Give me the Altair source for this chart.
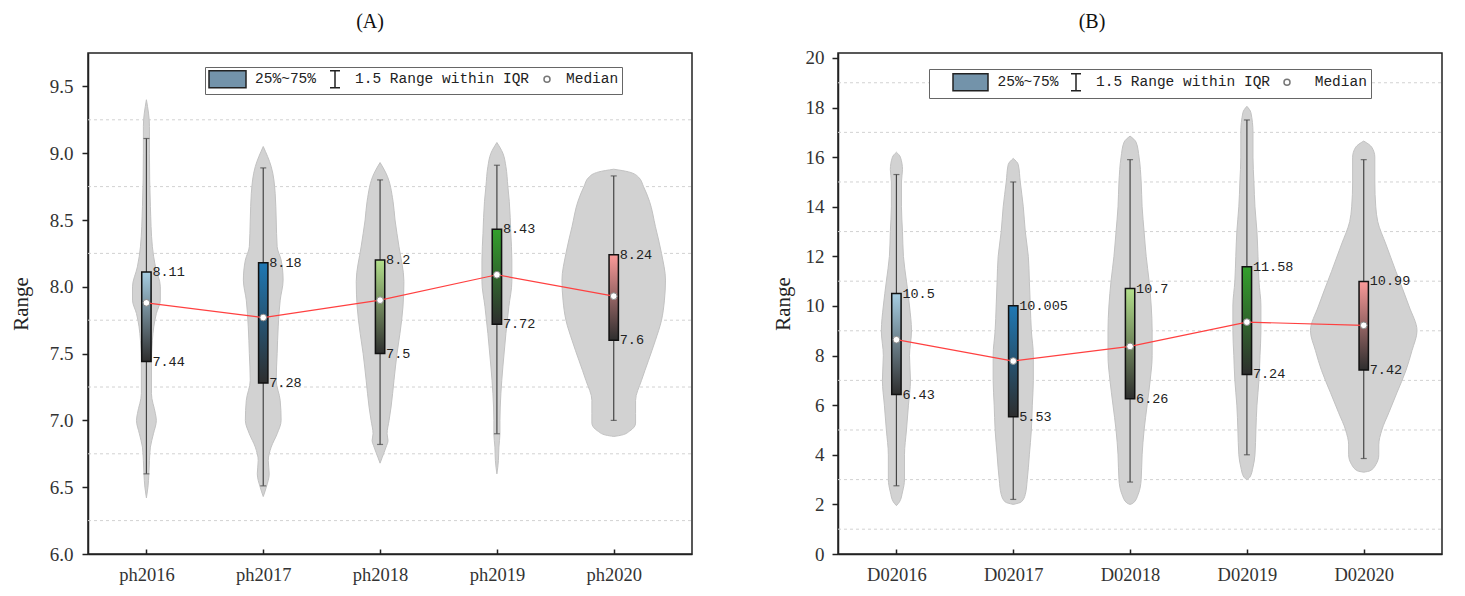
import json
import altair as alt
import pandas as pd

# ---------------- Panel A data ----------------
cats_a = ["ph2016", "ph2017", "ph2018", "ph2019", "ph2020"]
q1_a = [7.44, 7.28, 7.5, 7.72, 7.6]
q3_a = [8.11, 8.18, 8.2, 8.43, 8.24]
med_a = [7.88, 7.77, 7.90, 8.09, 7.93]
lo_a = [6.60, 6.51, 6.82, 6.90, 7.00]
hi_a = [9.11, 8.89, 8.80, 8.91, 8.83]

# violin outlines: levels and half widths (category units)
va16_y = [9.40, 9.2, 9.0, 8.6, 8.3, 8.15, 8.0, 7.9, 7.8, 7.6, 7.4, 7.2, 7.05, 7.0, 6.9, 6.8, 6.7, 6.6, 6.5, 6.42]
va16_w = [0, .026, .026, .034, .051, .077, .119, .119, .085, .051, .043, .043, .077, .085, .06, .034, .026, .021, .013, 0]
va17_y = [9.05, 8.9, 8.7, 8.5, 8.3, 8.2, 8.05, 7.9, 7.7, 7.5, 7.3, 7.15, 7.0, 6.9, 6.8, 6.7, 6.6, 6.5, 6.43]
va17_w = [0, .068, .102, .111, .119, .153, .17, .145, .128, .119, .111, .145, .153, .119, .068, .043, .051, .026, 0]
va18_y = [8.93, 8.85, 8.64, 8.5, 8.3, 8.04, 7.85, 7.65, 7.5, 7.3, 7.1, 7.0, 6.9, 6.85, 6.8, 6.72, 6.68]
va18_w = [0, .051, .111, .128, .162, .204, .196, .17, .145, .119, .094, .077, .06, .068, .051, .017, 0]
va19_y = [9.08, 9.0, 8.9, 8.75, 8.64, 8.4, 8.2, 8.04, 7.85, 7.65, 7.4, 7.2, 7.0, 6.9, 6.8, 6.7, 6.6]
va19_w = [0, .051, .077, .094, .106, .119, .128, .128, .102, .077, .051, .034, .026, .026, .017, .013, 0]
va20_y = [8.88, 8.86, 8.82, 8.75, 8.64, 8.45, 8.25, 8.05, 7.9, 7.75, 7.6, 7.45, 7.3, 7.15, 7.05, 6.98, 6.92, 6.89, 6.88]
va20_w = [0, .128, .213, .255, .306, .357, .409, .443, .434, .409, .357, .298, .238, .187, .187, .187, .136, .068, 0]

# ---------------- Panel B data ----------------
cats_b = ["D02016", "D02017", "D02018", "D02019", "D02020"]
q1_b = [6.43, 5.53, 6.26, 7.24, 7.42]
q3_b = [10.5, 10.005, 10.7, 11.58, 10.99]
med_b = [8.64, 7.78, 8.37, 9.35, 9.22]
lo_b = [2.75, 2.2, 2.9, 4.0, 3.85]
hi_b = [15.3, 15.0, 15.9, 17.5, 15.9]

vb16_y = [16.2, 16.0, 15.5, 15.0, 14.0, 13.0, 12.0, 11.0, 10.0, 9.0, 8.0, 7.0, 6.0, 5.0, 4.0, 3.0, 2.5, 2.1, 1.95]
vb16_w = [0, .034, .052, .043, .043, .052, .06, .086, .112, .129, .112, .12, .103, .086, .069, .069, .052, .026, 0]
vb17_y = [15.95, 15.7, 15.0, 14.0, 13.0, 12.0, 11.0, 10.0, 9.0, 8.0, 7.0, 6.0, 5.0, 4.0, 3.0, 2.4, 2.1, 2.0]
vb17_w = [0, .043, .06, .086, .103, .129, .138, .146, .155, .172, .172, .163, .155, .138, .12, .103, .069, 0]
vb18_y = [16.85, 16.6, 16.0, 15.0, 14.0, 13.0, 12.0, 11.0, 10.0, 9.0, 8.0, 7.0, 6.0, 5.0, 4.0, 3.0, 2.4, 2.05, 2.0]
vb18_w = [0, .052, .077, .095, .103, .12, .138, .163, .181, .189, .189, .172, .146, .12, .103, .095, .069, .026, 0]
vb19_y = [18.05, 17.8, 17.0, 16.0, 15.0, 14.0, 13.0, 12.0, 11.0, 10.0, 9.0, 8.0, 7.0, 6.0, 5.0, 4.0, 3.5, 3.1, 3.0]
vb19_w = [0, .034, .052, .052, .06, .069, .086, .095, .103, .12, .12, .112, .103, .086, .077, .069, .052, .026, 0]
vb20_y = [16.65, 16.4, 16.0, 15.0, 14.0, 13.4, 12.5, 11.4, 10.0, 9.0, 8.2, 7.4, 6.5, 5.7, 5.0, 4.4, 4.0, 3.6, 3.35, 3.3]
vb20_w = [0, .069, .095, .095, .103, .12, .189, .275, .387, .456, .413, .361, .284, .215, .155, .129, .129, .103, .052, 0]

box_colors = ["#a6cee3", "#1f78b4", "#b2df8a", "#33a02c", "#fb9a99"]
legend_items = ["25%~75%", "1.5 Range within IQR", "Median"]

# axis ticks and dashed grid levels
ticks_a = [6 + 0.25 * i for i in range(15)]
grid_a = [6.25, 6.75, 7.25, 7.75, 8.25, 8.75, 9.25]
ticks_b = list(range(0, 21, 2))
grid_b = list(range(1, 20, 2))

SERIF = "Liberation Serif"
MONO = "Liberation Mono"
ZW = "\u200b"     # zero width lead so the following spaces survive trimming
NBSP = "\u00a0"


def panel(cats, q1, q3, med, lo, hi, vys, vws, ydom, yvals, grid_vals, major, fmt,
          title, title_dx, title_off, lab_pad, title_pad,
          leg_x, leg_y, leg_pad, leg_col, sp1, sp3, swatch, width, height):
    pos = list(range(1, len(cats) + 1))
    vrows = []
    for i, c in enumerate(cats):
        for y, w in zip(vys[i], vws[i]):
            vrows.append({"cat": c, "pos": pos[i], "lvl": y, "w": w})
    vdf = pd.DataFrame(vrows)
    bdf = pd.DataFrame({"cat": cats, "pos": pos, "q1": q1, "q3": q3, "med": med,
                        "lo": lo, "hi": hi,
                        "q1l": [str(v) for v in q1], "q3l": [str(v) for v in q3]})
    items = [
        (ZW + NBSP * sp1 if sp1 else "") + legend_items[0],
        legend_items[1],
        (ZW + NBSP * sp3 if sp3 else "") + legend_items[2],
    ]
    ldf = pd.DataFrame({"item": items, "pos": [1, 1, 1],
                        "val": [ydom[0] - 1000] * 3})
    gdf = pd.DataFrame({"g": grid_vals})

    xs = alt.Scale(domain=[0.5, 5.67], nice=False, zero=False)
    ys = alt.Scale(domain=ydom, nice=False, zero=False)
    test = f"abs(datum.value / {major} - round(datum.value / {major})) < 1e-6"
    xaxis = alt.Axis(values=pos, labelExpr=json.dumps(cats) + "[datum.value - 1]",
                     title=None, grid=False, tickSize=alt.ExprRef("-5"),
                     labelPadding=16, labelFontSize=18.5)
    yaxis = alt.Axis(values=yvals, title="Range",
                     labelExpr=f"{test} ? format(datum.value, '{fmt}') : ''",
                     grid=False, tickSize=6, labelPadding=lab_pad, titlePadding=title_pad)

    X = alt.X("pos:Q", scale=xs, axis=xaxis)

    grid = alt.Chart(gdf).mark_rule(color="#d2d2d2", strokeDash=[3, 3], strokeWidth=1).encode(
        y=alt.Y("g:Q", scale=ys, axis=yaxis),
        x=alt.value(0), x2=alt.value(width))

    violins = alt.Chart(vdf).transform_calculate(
        left="datum.pos - datum.w", right="datum.pos + datum.w"
    ).mark_area(orient="horizontal", interpolate="monotone", fill="#d2d2d2",
                stroke="#c2c2c2", strokeWidth=1).encode(
        y=alt.Y("lvl:Q", scale=ys, axis=yaxis),
        x=alt.X("left:Q", scale=xs, axis=xaxis),
        x2="right:Q",
        detail="cat:N",
    )

    base = alt.Chart(bdf)
    whisk = base.mark_rule(color="#444", strokeWidth=1.2).encode(
        x=X, y=alt.Y("lo:Q", scale=ys), y2="hi:Q")
    cap_lo = base.mark_tick(orient="horizontal", size=6, thickness=1.2, color="#444").encode(
        x=X, y=alt.Y("lo:Q", scale=ys))
    cap_hi = base.mark_tick(orient="horizontal", size=6, thickness=1.2, color="#444").encode(
        x=X, y=alt.Y("hi:Q", scale=ys))

    boxes = []
    for c, col in zip(cats, box_colors):
        grad = alt.Gradient(gradient="linear",
                            stops=[alt.GradientStop(color=col, offset=0),
                                   alt.GradientStop(color="#2e2e2e", offset=1)],
                            x1=0, x2=0, y1=0, y2=1)
        boxes.append(
            base.transform_filter(alt.datum.cat == c).transform_calculate(
                bl="datum.pos - 0.04", br="datum.pos + 0.04"
            ).mark_rect(fill=grad, stroke="#111", strokeWidth=1.5).encode(
                x=alt.X("bl:Q", scale=xs), x2="br:Q",
                y=alt.Y("q3:Q", scale=ys), y2="q1:Q")
        )

    line = base.mark_line(color="#ff4040", strokeWidth=1.2).encode(
        x=X, y=alt.Y("med:Q", scale=ys))
    dots = base.mark_point(filled=True, fill="white", stroke="#888", strokeWidth=1,
                           size=45, opacity=1, shape="circle").encode(
        x=X, y=alt.Y("med:Q", scale=ys))
    t_hi = base.mark_text(align="left", baseline="middle", dx=6, font=MONO,
                          fontSize=13.5, color="#222").encode(
        x=X, y=alt.Y("q3:Q", scale=ys), text="q3l:N")
    t_lo = base.mark_text(align="left", baseline="middle", dx=6, font=MONO,
                          fontSize=13.5, color="#222").encode(
        x=X, y=alt.Y("q1:Q", scale=ys), text="q1l:N")

    leg = alt.Legend(title=None, orient="none", legendX=leg_x, legendY=leg_y,
                     direction="horizontal", columns=3, symbolSize=256,
                     symbolStrokeWidth=1.5, labelFont=MONO, labelFontSize=14.5,
                     labelColor="#222", labelOffset=3, columnPadding=leg_col,
                     padding=leg_pad, strokeColor="#666", fillColor="white",
                     labelLimit=500, symbolOpacity=1)
    shapes = [swatch,
              "M-1.625,-1.06H-0.375M-1,-1.06V1.06M-1.625,1.06H-0.375",
              "M-0.5,0A0.375,0.375,0,1,1,-1.25,0A0.375,0.375,0,1,1,-0.5,0Z"
              "M-0.875,-1.06L-0.875,-1.06M-0.875,1.06L-0.875,1.06"]
    legend_layer = alt.Chart(ldf).mark_point(clip=True, opacity=1).encode(
        x=X, y=alt.Y("val:Q", scale=ys),
        shape=alt.Shape("item:N", scale=alt.Scale(domain=items, range=shapes), legend=leg),
        fill=alt.Fill("item:N", scale=alt.Scale(domain=items,
                                                range=["#7393aa", "transparent", "white"]), legend=leg),
        stroke=alt.Stroke("item:N", scale=alt.Scale(domain=items,
                                                    range=["#222", "#222", "#777"]), legend=leg),
    )

    layers = [grid, violins, whisk, cap_lo, cap_hi] + boxes + [line, dots, t_hi, t_lo, legend_layer]
    return alt.layer(*layers).properties(
        width=width, height=height,
        title=alt.TitleParams(text=title, anchor="middle", dx=title_dx, offset=title_off,
                              font=SERIF, fontSize=20, fontWeight="normal", color="#111"),
    )


left = panel(cats_a, q1_a, q3_a, med_a, lo_a, hi_a,
             [va16_y, va17_y, va18_y, va19_y, va20_y],
             [va16_w, va17_w, va18_w, va19_w, va20_w],
             [6, 9.75], ticks_a, grid_a, 0.5, ".1f", "(A)", -20, 21, 9, 18,
             117, 14, 3, 10, 3, 0, "M-1,-1.06H3.625V1.06H-1Z", 604, 501)
right = panel(cats_b, q1_b, q3_b, med_b, lo_b, hi_b,
              [vb16_y, vb17_y, vb18_y, vb19_y, vb20_y],
              [vb16_w, vb17_w, vb18_w, vb19_w, vb20_w],
              [0, 20.2], ticks_b, grid_b, 2, "d", "(B)", -48, 17, 8, 12,
              91, 16, 4, 9, 5, 1, "M1.375,-1.06H5.75V1.06H1.375Z", 604, 501)

chart = alt.hconcat(left, right, spacing=77).resolve_scale(
    x="independent", y="independent", shape="independent",
    fill="independent", stroke="independent"
).resolve_legend(shape="independent", fill="independent", stroke="independent"
).configure_view(stroke="#222", strokeWidth=1.5
).configure_axis(domainColor="#222", domainWidth=1.5, tickColor="#222", tickWidth=1.5,
                 labelFont=SERIF, labelFontSize=19, labelColor="#333",
                 titleFont=SERIF, titleFontSize=21, titleFontWeight="normal",
                 titleColor="#222"
).properties(background="white", padding={"left": 1, "top": 3, "right": 5, "bottom": 5})

chart.save("out.html", embed_options={"renderer": "svg", "actions": False})
